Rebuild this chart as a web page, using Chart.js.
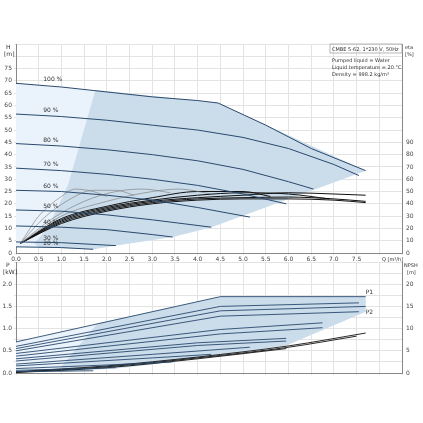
<!DOCTYPE html>
<html>
<head>
<meta charset="utf-8">
<script src="https://cdn.jsdelivr.net/npm/chart.js@4.4.1/dist/chart.umd.min.js"></script>
<style>
  body { margin: 0; background: #fff; }
  #wrap { position: relative; width: 423px; height: 423px; }
</style>
</head>
<body>
<div id="wrap">
  <div style="position:absolute;left:0;top:0;width:423px;height:262px"><canvas id="top"></canvas></div>
  <div style="position:absolute;left:0;top:255px;width:423px;height:135px"><canvas id="bottom"></canvas></div>
</div>
<script>
// speed labels and head curves (Q [m3/h], H [m])
const speeds = ['100 %', '90 %', '80 %', '70 %', '60 %', '50 %', '40 %', '30 %', '20 %'];
const headCurves = [
  [[0,69],[1,67.5],[2,65.5],[3,63.5],[4,62],[4.45,61],[5.5,52],[6.5,42.5],[7.7,33.5]],
  [[0,56.5],[1,55.5],[2,54],[3,52],[4,50],[5,47],[6,42.5],[7,36],[7.55,31.5]],
  [[0,44.5],[1,43.5],[2,42],[3,40],[4,37.5],[5,34],[6,29],[6.55,26]],
  [[0,34.5],[1,33.5],[2,32],[3,30],[4,27.5],[5,24],[5.95,20]],
  [[0,25.5],[1,25],[2,23.5],[3,21.5],[4,18.5],[5.15,14.6]],
  [[0,17.5],[1,17],[2,15.5],[3,13.5],[4.3,10.5]],
  [[0,11],[1,10.5],[2,9.5],[3,7.5],[3.45,6.5]],
  [[0,4.5],[1,4.2],[2,3.2],[2.2,3]],
  [[0,2.5],[1,2.2],[1.7,1.5]]
];
// efficiency curves (Q, eta [%])
const etaCurves = [
  [[0.1,8],[0.5,30],[1,46],[1.3,52],[1.7,50],[2,46]],
  [[0.1,8],[0.6,28],[1.2,44],[1.7,51],[2.2,51],[2.6,47]],
  [[0.1,8],[0.8,28],[1.5,42],[2.2,50],[2.8,52],[3.4,49]],
  [[0.1,8],[1,30],[2,42],[3,50],[3.6,52],[4.3,48]],
  [[0.1,8],[1,28],[2,38],[3,45],[4,50],[5,50],[5.6,46]],
  [[0.1,8],[1,27],[2,37],[3,43],[4,47],[5,49],[6,48],[6.9,44]],
  [[0.1,8],[1,26],[2,36],[3,42],[4,45],[5,47],[6,49],[7,48],[7.7,47]],
  [[0.1,8],[1,25],[2,35],[3,41],[4,44],[5,45],[6,45.5],[7,44],[7.7,42]],
  [[0.1,8],[1,24],[2,34],[3,40],[4,43],[5,44],[6,44],[7,43],[7.7,41]]
];
const headEnvelope = [[0,69],[4.45,61],[7.7,33.5],[4.3,10.5],[3.45,6.5],[2.2,3],[1.7,1.5],[0,2.5]];
const headInner = [[1.75,66.3],[4.45,61],[7.7,33.5],[4.3,10.5],[3.45,6.5],[2.2,3],[1.7,1.5],[0.5,2.3],[0.4,4],[0.7,10],[1.15,28]];

// power curves (Q, P [kW]), P1 and P2 per speed
const powerCurves = [
  [[0,0.7],[4.5,1.72],[7.7,1.72]],
  [[0,0.6],[4.5,1.5],[7.55,1.58]],
  [[0,0.55],[4.5,1.4],[7.7,1.5]],
  [[0,0.5],[4.5,1.28],[7.55,1.38]],
  [[0,0.44],[4.5,0.98],[6.75,1.13]],
  [[0,0.38],[4.5,0.88],[6.75,1.02]],
  [[0,0.32],[4,0.68],[5.95,0.78]],
  [[0,0.27],[4,0.62],[5.95,0.72]],
  [[0,0.2],[3,0.42],[5.15,0.58]],
  [[0,0.16],[3,0.34],[4.3,0.42]],
  [[0,0.1],[2,0.18],[3.45,0.25]],
  [[0,0.06],[1.5,0.1],[2.2,0.12]],
  [[0,0.03],[1.7,0.05]]
];
const npshCurves = [
  [[0,0.3],[2,1.6],[4,3.6],[6,6.1],[7.7,9]],
  [[0,0.2],[2,1.4],[4,3.4],[6,5.8],[7.5,8.3]],
  [[0,0.1],[2,1.2],[4,3.2],[5.95,5.5]]
];
const powerEnvelope = [[0,0.7],[4.5,1.72],[7.7,1.72],[7.7,1.38],[5.95,0.62],[3.45,0.25],[2.2,0.1],[0,0.02]];
const powerInner = [[1.8,1.12],[4.5,1.72],[7.7,1.72],[7.7,1.38],[5.95,0.62],[3.45,0.25],[2.2,0.1],[0.9,0.02]];

const pts = a => a.map(p => ({ x: p[0], y: p[1] }));
const grid = '#e3e3e3';
const tickFont = { family: 'DejaVu Sans', size: 6 };

function shape(data, color, order) {
  return { data: pts(data), showLine: true, fill: 'shape', backgroundColor: color, borderWidth: 0,
           borderColor: 'rgba(0,0,0,0)', pointRadius: 0, yAxisID: 'y', order: order, tension: 0 };
}
function curve(data, color, width, axis, smooth) {
  return { data: pts(data), showLine: true, fill: false, borderColor: color, borderWidth: width,
           pointRadius: 0, yAxisID: axis, order: 1,
           tension: smooth ? 0.4 : 0, cubicInterpolationMode: smooth ? 'monotone' : 'default' };
}
function fixWidth(w) { return function (s) { s.width = w; }; }

const labelsPlugin = {
  id: 'labels',
  afterDraw(chart) {
    const c = chart.ctx, x = chart.scales.x, y = chart.scales.y;
    c.save();
    c.font = '6px DejaVu Sans';
    c.fillStyle = '#333';
    if (chart.canvas.id === 'top') {
      headCurves.forEach((cv, i) => {
        c.fillText(speeds[i], x.getPixelForValue(0.6), y.getPixelForValue(cv[0][1]) - 2);
      });
      c.fillText('H', 6, 49); c.fillText('[m]', 4, 56);
      c.font = '5px DejaVu Sans';
      c.fillText('eta', 405, 49); c.fillText('[%]', 405, 56);
      c.fillText('Q [m\u00b3/h]', 382, 261);
      c.strokeStyle = '#999'; c.lineWidth = 0.7;
      c.strokeRect(330, 44, 72, 9);
      c.fillText('CMBE 5-62, 1*230 V, 50Hz', 332, 51);
      c.fillText('Pumped liquid = Water', 332, 62);
      c.fillText('Liquid temperature = 20 \u00b0C', 332, 69);
      c.fillText('Density = 998.2 kg/m\u00b3', 332, 76);
    } else {
      c.fillText('P', 6, 12); c.fillText('[kW]', 3, 19);
      c.font = '5px DejaVu Sans';
      c.fillText('NPSH', 404, 12);
      c.fillText('[m]', 407, 19);
      c.font = '6px DejaVu Sans';
      c.fillText('P1', x.getPixelForValue(7.7), y.getPixelForValue(1.78));
      c.fillText('P2', x.getPixelForValue(7.7), y.getPixelForValue(1.33));
    }
    c.restore();
  }
};

const axisBase = { grid: { color: grid, tickLength: 2 }, border: { color: '#888' } };

new Chart(document.getElementById('top'), {
  type: 'scatter',
  data: { datasets: [
    shape(headEnvelope, '#eaf3fb', 20),
    shape(headInner, '#cbdcea', 15),
    ...headCurves.map(c => curve(c, '#2a4a6e', 1, 'y', false)),
    ...etaCurves.map((c, i) => curve(c, i < 4 ? '#777' : '#111', i < 4 ? 0.6 : 1, 'y2', true))
  ] },
  options: {
    responsive: true, maintainAspectRatio: false, animation: false,
    layout: { padding: { top: 44, right: 0, bottom: 0, left: 0 } },
    plugins: { legend: { display: false }, tooltip: { enabled: false } },
    scales: {
      x: { type: 'linear', min: 0, max: 8.5, afterFit(s) { s.height = 9; }, ...axisBase,
           ticks: { stepSize: 0.5, font: tickFont, color: '#444', padding: 1, maxRotation: 0,
                    callback: v => v <= 7.5 ? v.toFixed(1) : '' } },
      y: { min: 0, max: 85, afterFit: fixWidth(16), ...axisBase,
           ticks: { stepSize: 5, font: tickFont, color: '#444', padding: 2,
                    callback: v => v <= 75 ? v : '' } },
      y2: { position: 'right', min: 0, max: 170, afterFit: fixWidth(21),
            grid: { display: false, tickLength: 2 }, border: { color: '#888' },
            ticks: { stepSize: 10, font: tickFont, color: '#444', padding: 2,
                     callback: v => v <= 90 ? v : '' } }
    }
  },
  plugins: [labelsPlugin]
});

new Chart(document.getElementById('bottom'), {
  type: 'scatter',
  data: { datasets: [
    shape(powerEnvelope, '#eaf3fb', 20),
    shape(powerInner, '#cbdcea', 15),
    ...powerCurves.map(c => curve(c, '#2a4a6e', 0.9, 'y', false)),
    ...npshCurves.map(c => curve(c, '#111', 0.9, 'y2', true))
  ] },
  options: {
    responsive: true, maintainAspectRatio: false, animation: false,
    layout: { padding: { top: 7, right: 0, bottom: 0, left: 0 } },
    plugins: { legend: { display: false }, tooltip: { enabled: false } },
    scales: {
      x: { type: 'linear', min: 0, max: 8.5, afterFit(s) { s.height = 17; }, ...axisBase,
           ticks: { stepSize: 0.5, display: false } },
      y: { min: 0, max: 2.5, afterFit: fixWidth(16), ...axisBase,
           ticks: { stepSize: 0.25, font: tickFont, color: '#444', padding: 2,
                    callback: v => (Math.abs(v * 2 - Math.round(v * 2)) < 1e-6 && v <= 2) ? v.toFixed(1) : '' } },
      y2: { position: 'right', min: 0, max: 25, afterFit: fixWidth(21),
            grid: { display: false, tickLength: 2 }, border: { color: '#888' },
            ticks: { stepSize: 2.5, font: tickFont, color: '#444', padding: 2,
                     callback: v => (v % 5 === 0 && v <= 20) ? v : '' } }
    }
  },
  plugins: [labelsPlugin]
});
</script>
</body>
</html>
